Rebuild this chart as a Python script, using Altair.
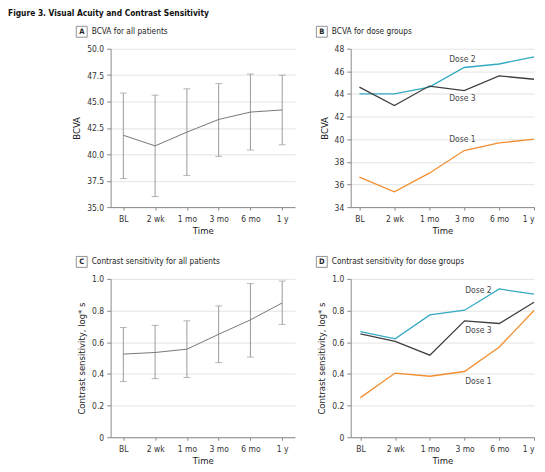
import altair as alt
import pandas as pd

FONT = "Liberation Sans Narrow, DejaVu Sans Condensed, Roboto, sans-serif"

times = ["BL", "2 wk", "1 mo", "3 mo", "6 mo", "1 y"]

bcva_mean = [41.8, 40.8, 42.1, 43.3, 44.0, 44.2]
bcva_lo = [37.7, 36.0, 38.0, 39.8, 40.4, 40.9]
bcva_hi = [45.8, 45.6, 46.2, 46.7, 47.6, 47.5]

bcva_dose1 = [36.65, 35.35, 37.0, 39.0, 39.67, 40.0]
bcva_dose2 = [44.0, 44.0, 44.6, 46.34, 46.65, 47.28]
bcva_dose3 = [44.6, 42.97, 44.7, 44.3, 45.6, 45.3]

cs_mean = [0.525, 0.535, 0.556, 0.65, 0.741, 0.848]
cs_lo = [0.352, 0.37, 0.377, 0.471, 0.506, 0.712]
cs_hi = [0.693, 0.706, 0.735, 0.829, 0.97, 0.986]

cs_dose1 = [0.25, 0.405, 0.385, 0.415, 0.57, 0.80]
cs_dose2 = [0.667, 0.621, 0.772, 0.802, 0.936, 0.903]
cs_dose3 = [0.652, 0.605, 0.518, 0.735, 0.718, 0.852]

doses = ["Dose 1", "Dose 2", "Dose 3"]
dose_colors = ["#f28e2f", "#33a9c2", "#404040"]

# label anchors (data coordinates: time index, value)
bcva_label_x = [2.95, 2.95, 2.95]
bcva_label_y = [40.0, 47.1, 43.6]
cs_label_x = [3.4, 3.4, 3.4]
cs_label_y = [0.354, 0.928, 0.675]

idx = list(range(len(times)))
label_expr = "[" + ",".join("'%s'" % t for t in times) + "][datum.value]"

W1, W2, H = 185, 184, 159


def make_x(domain):
    sc = alt.Scale(domain=domain, nice=False, zero=False)
    ax = alt.Axis(values=idx, labelExpr=label_expr, grid=False,
                  labelOverlap=False, tickSize=3, labelPadding=4, titlePadding=3)

    def f(field):
        return alt.X(field, title="Time", scale=sc, axis=ax)
    return f


def make_y(domain, values, title, fmt=None, expr=None):
    sc = alt.Scale(domain=domain, nice=False, zero=False)
    kw = dict(values=values, grid=True, tickSize=4, labelPadding=3,
              titlePadding=5, labelOverlap=False)
    if fmt:
        kw["format"] = fmt
    if expr:
        kw["labelExpr"] = expr
    ax = alt.Axis(**kw)

    def f(field):
        return alt.Y(field, title=title, scale=sc, axis=ax)
    return f


def header(letter, text, xoff=-29):
    d = pd.DataFrame({"t": [letter]})
    box = alt.Chart(d).mark_point(shape="square", filled=False, size=120,
                                  stroke="#555555", strokeWidth=0.9).encode(
        x=alt.value(xoff), y=alt.value(-17))
    let = alt.Chart(d).mark_text(font=FONT, fontSize=7.5, fontWeight="bold",
                                 color="#222222", baseline="middle").encode(
        x=alt.value(xoff), y=alt.value(-16.5), text="t:N")
    d2 = pd.DataFrame({"t": [text]})
    txt = alt.Chart(d2).mark_text(font=FONT, fontSize=8.3, color="#222222",
                                  align="left", baseline="middle").encode(
        x=alt.value(xoff + 10), y=alt.value(-17), text="t:N")
    return [box, let, txt]


def all_panel(mean, lo, hi, X, Y, letter, text, width=W1, extra=None):
    df = pd.DataFrame({"i": idx, "t": times, "m": mean, "lo": lo, "hi": hi})
    base = alt.Chart(df)
    rule = base.mark_rule(color="#9a9a9a", strokeWidth=1).encode(
        x=X("i:Q"), y=Y("lo:Q"), y2="hi:Q")
    cap_lo = base.mark_tick(orient="horizontal", size=7, thickness=1,
                            color="#9a9a9a").encode(x=X("i:Q"), y=Y("lo:Q"))
    cap_hi = base.mark_tick(orient="horizontal", size=7, thickness=1,
                            color="#9a9a9a").encode(x=X("i:Q"), y=Y("hi:Q"))
    line = base.mark_line(color="#777777", strokeWidth=1).encode(
        x=X("i:Q"), y=Y("m:Q"))
    layers = [rule, cap_lo, cap_hi, line] + header(letter, text)
    if extra is not None:
        layers.append(extra)
    return alt.layer(*layers).properties(width=width, height=H)


def dose_panel(s1, s2, s3, lx, ly, X, Y, letter, text, width=W2):
    rows = []
    for d, s in zip(doses, [s1, s2, s3]):
        for i, t, v in zip(idx, times, s):
            rows.append({"i": i, "t": t, "v": v, "dose": d})
    df = pd.DataFrame(rows)
    line = alt.Chart(df).mark_line(strokeWidth=1.3).encode(
        x=X("i:Q"), y=Y("v:Q"),
        color=alt.Color("dose:N", scale=alt.Scale(domain=doses, range=dose_colors),
                        legend=None))
    lab = pd.DataFrame({"i": lx, "v": ly, "dose": doses})
    labels = alt.Chart(lab).mark_text(font=FONT, fontSize=8.5, color="#444444",
                                      baseline="middle").encode(
        x=X("i:Q"), y=Y("v:Q"), text="dose:N")
    return alt.layer(line, labels, *header(letter, text)).properties(
        width=width, height=H)


fig_title = alt.Chart(pd.DataFrame({"t": ["Figure 3. Visual Acuity and Contrast Sensitivity"]})).mark_text(
    font=FONT, fontSize=8.4, fontWeight="bold", color="#111111", align="left",
    baseline="middle").encode(x=alt.value(-103), y=alt.value(-36), text="t:N")

cs_expr = "datum.value == 0 ? '0' : format(datum.value, '.1f')"
cs_title = "Contrast sensitivity, log* s"
cs_vals = [0, 0.2, 0.4, 0.6, 0.8, 1.0]

A = all_panel(bcva_mean, bcva_lo, bcva_hi, make_x([-0.4, 5.4]),
              make_y([35, 50], [35, 37.5, 40, 42.5, 45, 47.5, 50], "BCVA", fmt=".1f"),
              "A", "BCVA for all patients", extra=fig_title)
B = dose_panel(bcva_dose1, bcva_dose2, bcva_dose3, bcva_label_x, bcva_label_y,
               make_x([-0.25, 5]),
               make_y([34, 48], [34, 36, 38, 40, 42, 44, 46, 48], "BCVA"),
               "B", "BCVA for dose groups")
C = all_panel(cs_mean, cs_lo, cs_hi, make_x([-0.4, 5.4]),
              make_y([0, 1], cs_vals, cs_title, expr=cs_expr),
              "C", "Contrast sensitivity for all patients")
D = dose_panel(cs_dose1, cs_dose2, cs_dose3, cs_label_x, cs_label_y,
               make_x([-0.28, 5]),
               make_y([0, 1], cs_vals, cs_title, expr=cs_expr),
               "D", "Contrast sensitivity for dose groups")

chart = alt.concat(A, B, C, D, columns=2,
                   spacing={"row": 19, "column": 19}).properties(
    padding=0
).configure_view(stroke=None).configure_axis(
    labelFont=FONT, titleFont=FONT, labelFontSize=8.5, titleFontSize=9.5,
    labelColor="#333333", titleColor="#222222", titleFontWeight="normal",
    domainColor="#8a8a8a", tickColor="#8a8a8a", gridColor="#e3e3e3",
    domainWidth=1, tickWidth=1, gridWidth=1
)

chart.save("out.html", embed_options={"renderer": "svg", "actions": False})
